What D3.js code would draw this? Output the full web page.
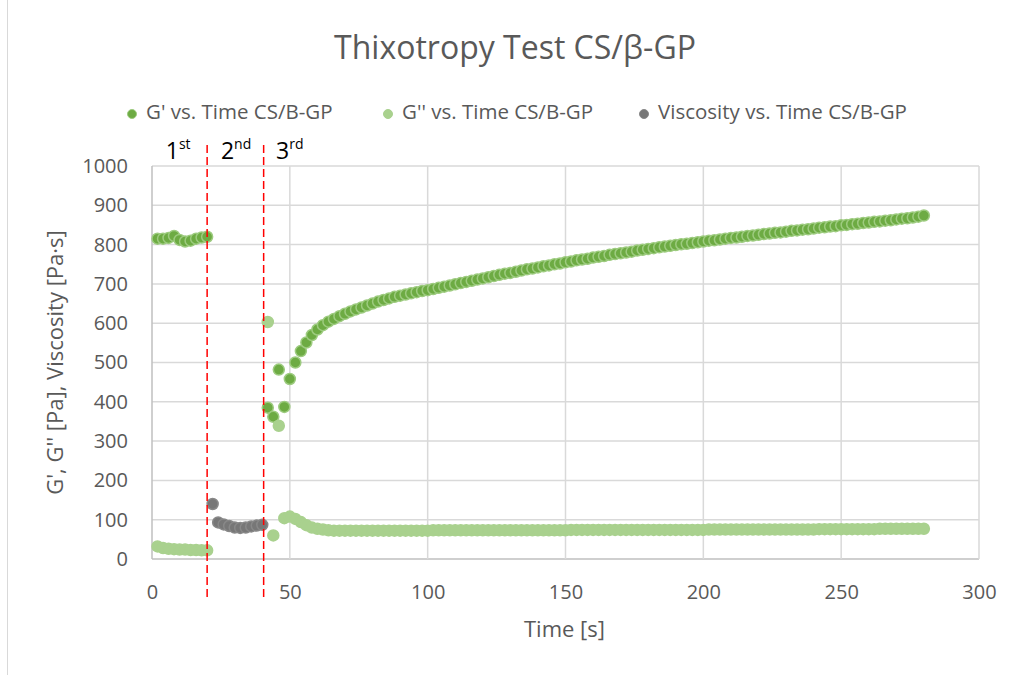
<!DOCTYPE html>
<meta charset="utf-8">
<script src="https://d3js.org/d3.v7.js"></script>
<style>
  body { margin: 0; background: #fff; }
  text { font-family: "Open Sans", sans-serif; }
</style>
<div id="chart"></div>

<script>

// time points [s]
var tRest1 = [2, 4, 6, 8, 10, 12, 14, 16, 18, 20];
var tShear = [22, 24, 26, 28, 30, 32, 34, 36, 38, 40];
var tRest3 = [
  42, 44, 46, 48, 50, 52, 54, 56, 58, 60, 62, 64, 66, 68, 70, 72, 74, 76, 78, 80,
  82, 84, 86, 88, 90, 92, 94, 96, 98, 100, 102, 104, 106, 108, 110, 112, 114, 116, 118, 120,
  122, 124, 126, 128, 130, 132, 134, 136, 138, 140, 142, 144, 146, 148, 150, 152, 154, 156, 158, 160,
  162, 164, 166, 168, 170, 172, 174, 176, 178, 180, 182, 184, 186, 188, 190, 192, 194, 196, 198, 200,
  202, 204, 206, 208, 210, 212, 214, 216, 218, 220, 222, 224, 226, 228, 230, 232, 234, 236, 238, 240,
  242, 244, 246, 248, 250, 252, 254, 256, 258, 260, 262, 264, 266, 268, 270, 272, 274, 276, 278, 280
];

// G' [Pa]
var gPrime1 = [815, 815, 817, 822, 812, 808, 810, 815, 818, 820];
var gPrime3 = [
  385, 362, 482, 387, 458, 500, 529, 551, 570, 584, 595, 604, 611, 618, 624, 630, 635, 640, 645, 650,
  655, 659, 663, 667, 670, 673, 676, 679, 682, 684, 687, 690, 693, 696, 699, 702, 705, 708, 711, 714,
  717, 720, 723, 726, 728, 731, 734, 737, 739, 742, 745, 747, 750, 752, 755, 757, 760, 762, 764, 767,
  769, 771, 774, 776, 778, 780, 782, 785, 787, 789, 791, 793, 795, 797, 799, 801, 802, 804, 806, 808,
  810, 811, 813, 815, 817, 818, 820, 822, 823, 825, 827, 828, 830, 831, 833, 835, 836, 838, 839, 841,
  843, 844, 846, 847, 849, 850, 852, 853, 855, 856, 858, 859, 861, 862, 864, 866, 867, 869, 871, 874
];

// G'' [Pa]
var gDouble1 = [32, 28, 26, 25, 24, 24, 23, 23, 22, 22];
var gDouble3 = [
  603, 60, 339, 104, 108, 102, 94, 86, 80, 77, 75, 73, 72, 72, 72, 72, 72, 72, 72, 72,
  72, 72, 72, 72, 72, 72, 72, 72, 72, 72, 73, 73, 73, 73, 73, 73, 73, 73, 73, 73,
  73, 73, 73, 73, 73, 73, 73, 73, 73, 73, 73, 73, 73, 73, 73, 74, 74, 74, 74, 74,
  74, 74, 74, 74, 74, 74, 74, 74, 74, 74, 74, 74, 74, 74, 74, 74, 74, 74, 74, 74,
  75, 75, 75, 75, 75, 75, 75, 75, 75, 75, 75, 75, 75, 75, 75, 75, 75, 75, 75, 75,
  76, 76, 76, 76, 76, 76, 76, 76, 76, 76, 76, 77, 77, 77, 77, 77, 77, 77, 77, 77
];

// viscosity [Pa·s]
var viscosity = [140, 93, 88, 84, 80, 79, 80, 83, 85, 87];

var xTicks = [0, 50, 100, 150, 200, 250, 300];
var yTicks = [0, 100, 200, 300, 400, 500, 600, 700, 800, 900, 1000];
var stepLines = [20, 40.5];
var stepLabels = [
  {n: "1", sup: "st", t: 5},
  {n: "2", sup: "nd", t: 25},
  {n: "3", sup: "rd", t: 45}
];

var seriesNames = ["G' vs. Time CS/B-GP", "G'' vs. Time CS/B-GP", "Viscosity vs. Time CS/B-GP"];

var margin = {top: 166, right: 43, bottom: 116, left: 152},
    width = 1022 - margin.left - margin.right,
    height = 675 - margin.top - margin.bottom;

var root = d3.select("#chart")
  .append("svg")
    .attr("width", 1022)
    .attr("height", 675);

// outer chart border (only left edge visible)
root.append("line")
  .attr("x1", 7.5).attr("x2", 7.5)
  .attr("y1", 0).attr("y2", 675)
  .attr("stroke", "#d9d9d9");

root.append("text")
  .attr("x", 515)
  .attr("y", 50)
  .attr("text-anchor", "middle")
  .attr("dominant-baseline", "middle")
  .attr("font-size", 32)
  .attr("fill", "#595959")
  .text("Thixotropy Test CS/\u03b2-GP");

var svg = root.append("g")
  .attr("transform", "translate(" + margin.left + "," + margin.top + ")");

var x = d3.scaleLinear()
  .domain([0, 300])
  .range([0, width]);

var y = d3.scaleLinear()
  .domain([0, 1000])
  .range([height, 0]);

// gridlines
svg.append("g")
  .selectAll("line.h")
  .data(yTicks)
  .enter().append("line")
    .attr("x1", 0).attr("x2", width)
    .attr("y1", function(d) { return y(d); })
    .attr("y2", function(d) { return y(d); })
    .attr("stroke", function(d) { return d === 0 ? "#bfbfbf" : "#d9d9d9"; })
    .attr("stroke-width", 1.5);

svg.append("g")
  .selectAll("line.v")
  .data(xTicks)
  .enter().append("line")
    .attr("y1", 0).attr("y2", height)
    .attr("x1", function(d) { return x(d); })
    .attr("x2", function(d) { return x(d); })
    .attr("stroke", function(d) { return d === 0 ? "#bfbfbf" : "#d9d9d9"; })
    .attr("stroke-width", 1.5);

// axes (labels only)
var xAxis = svg.append("g")
  .attr("transform", "translate(0," + height + ")")
  .call(d3.axisBottom(x).tickValues(xTicks).tickFormat(d3.format("d")).tickSize(0).tickPadding(23));
var yAxis = svg.append("g")
  .call(d3.axisLeft(y).tickValues(yTicks).tickFormat(d3.format("d")).tickSize(0).tickPadding(24));

[xAxis, yAxis].forEach(function(a) {
  a.select(".domain").remove();
  a.selectAll("text")
    .attr("font-family", "Open Sans, sans-serif")
    .attr("font-size", 20)
    .attr("fill", "#595959");
});
xAxis.selectAll("text").attr("dy", "0.32em").attr("y", 34);

svg.append("text")
  .attr("x", width / 2 - 1)
  .attr("y", height + 72)
  .attr("dominant-baseline", "middle")
  .attr("text-anchor", "middle")
  .attr("font-size", 22)
  .attr("fill", "#595959")
  .text("Time [s]");

svg.append("text")
  .attr("transform", "translate(" + (-95) + "," + y(500) + ") rotate(-90)")
  .attr("text-anchor", "middle")
  .attr("dominant-baseline", "middle")
  .attr("font-size", 22)
  .attr("fill", "#595959")
  .text("G', G'' [Pa], Viscosity [Pa\u00b7s]");

// series points
function pts(ts, vs) {
  return ts.map(function(t, i) { return {t: t, v: vs[i]}; });
}

var series = [
  {data: pts(tRest1, gPrime1).concat(pts(tRest3, gPrime3)), fill: "#6DAB43", stroke: "#9DCB7F"},
  {data: pts(tRest1, gDouble1).concat(pts(tRest3, gDouble3)), fill: "#A9D18E", stroke: "#A9D18E"},
  {data: pts(tShear, viscosity), fill: "#777777", stroke: "#888888"}
];

series.forEach(function(s) {
  svg.append("g")
    .selectAll("circle")
    .data(s.data)
    .enter().append("circle")
      .attr("cx", function(d) { return x(d.t); })
      .attr("cy", function(d) { return y(d.v); })
      .attr("r", 5.5)
      .attr("fill", s.fill)
      .attr("stroke", s.stroke)
      .attr("stroke-width", 1.5);
});

// step separators
svg.append("g")
  .selectAll("line")
  .data(stepLines)
  .enter().append("line")
    .attr("x1", function(d) { return x(d); })
    .attr("x2", function(d) { return x(d); })
    .attr("y1", -21)
    .attr("y2", height + 42)
    .attr("stroke", "#ff0000")
    .attr("stroke-width", 1.5)
    .attr("stroke-dasharray", "8,4");

var lab = svg.append("g")
  .selectAll("text")
  .data(stepLabels)
  .enter().append("text")
    .attr("x", function(d) { return x(d.t); })
    .attr("y", -7)
    .attr("font-size", 23)
    .attr("fill", "#000");
lab.append("tspan").text(function(d) { return d.n; });
lab.append("tspan")
  .attr("font-size", 14)
  .attr("dy", -10)
  .text(function(d) { return d.sup; });

// legend
var legend = root.append("g")
  .selectAll("g")
  .data(seriesNames)
  .enter().append("g")
    .attr("transform", function(d, i) { return "translate(" + (132 + i * 256) + ",114)"; });
legend.append("circle")
  .attr("r", 4.5)
  .attr("fill", function(d, i) { return series[i].fill; })
  .attr("stroke", function(d, i) { return series[i].stroke; });
legend.append("text")
  .attr("x", 14)
  .attr("dominant-baseline", "middle")
  .attr("font-size", 20.5)
  .attr("fill", "#595959")
  .text(function(d) { return d; });

</script>
